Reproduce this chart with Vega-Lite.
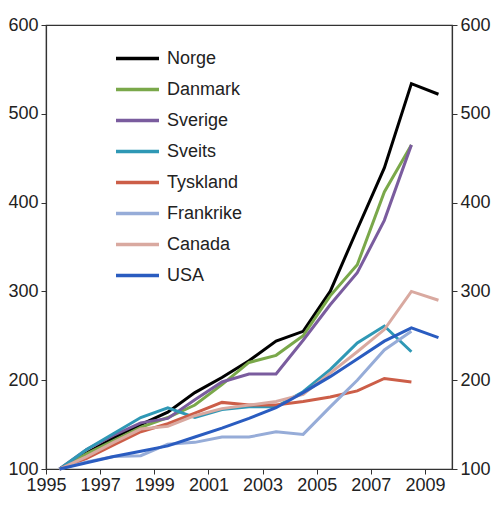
{
  "$schema": "https://vega.github.io/schema/vega-lite/v6.json",
  "width": 406,
  "height": 444,
  "autosize": "none",
  "padding": {"left": 46, "top": 25, "right": 48, "bottom": 44},
  "background": "white",
  "config": {
    "font": "Liberation Sans",
    "view": {"stroke": "#333333", "strokeWidth": 1.2},
    "axis": {
      "grid": false,
      "domainColor": "#333333",
      "domainWidth": 1.2,
      "tickColor": "#333333",
      "tickSize": 5,
      "labelFontSize": 18,
      "labelColor": "#222222",
      "labelFont": "Liberation Sans",
      "labelOverlap": false,
      "labelFlush": false,
      "title": null
    },
    "legend": {
      "orient": "none",
      "legendX": 68,
      "legendY": 19,
      "labelFontSize": 18,
      "labelColor": "#222222",
      "labelFont": "Liberation Sans",
      "symbolType": "stroke",
      "symbolSize": 1849,
      "symbolStrokeWidth": 3.5,
      "clipHeight": 29,
      "rowPadding": 2,
      "labelOffset": 6,
      "title": null
    }
  },
  "data": {
    "values": [
      {"land": "Norge", "år": 1995.5, "verdi": 100},
      {"land": "Norge", "år": 1996.5, "verdi": 118},
      {"land": "Norge", "år": 1997.5, "verdi": 135},
      {"land": "Norge", "år": 1998.5, "verdi": 150},
      {"land": "Norge", "år": 1999.5, "verdi": 164},
      {"land": "Norge", "år": 2000.5, "verdi": 186},
      {"land": "Norge", "år": 2001.5, "verdi": 203},
      {"land": "Norge", "år": 2002.5, "verdi": 222},
      {"land": "Norge", "år": 2003.5, "verdi": 244},
      {"land": "Norge", "år": 2004.5, "verdi": 255},
      {"land": "Norge", "år": 2005.5, "verdi": 300},
      {"land": "Norge", "år": 2006.5, "verdi": 370},
      {"land": "Norge", "år": 2007.5, "verdi": 439},
      {"land": "Norge", "år": 2008.5, "verdi": 534},
      {"land": "Norge", "år": 2009.5, "verdi": 522},
      {"land": "Danmark", "år": 1995.5, "verdi": 100},
      {"land": "Danmark", "år": 1996.5, "verdi": 117},
      {"land": "Danmark", "år": 1997.5, "verdi": 132},
      {"land": "Danmark", "år": 1998.5, "verdi": 147},
      {"land": "Danmark", "år": 1999.5, "verdi": 158},
      {"land": "Danmark", "år": 2000.5, "verdi": 172},
      {"land": "Danmark", "år": 2001.5, "verdi": 195},
      {"land": "Danmark", "år": 2002.5, "verdi": 220},
      {"land": "Danmark", "år": 2003.5, "verdi": 228},
      {"land": "Danmark", "år": 2004.5, "verdi": 250},
      {"land": "Danmark", "år": 2005.5, "verdi": 295},
      {"land": "Danmark", "år": 2006.5, "verdi": 330},
      {"land": "Danmark", "år": 2007.5, "verdi": 412},
      {"land": "Danmark", "år": 2008.5, "verdi": 465},
      {"land": "Sverige", "år": 1995.5, "verdi": 100},
      {"land": "Sverige", "år": 1996.5, "verdi": 122},
      {"land": "Sverige", "år": 1997.5, "verdi": 138},
      {"land": "Sverige", "år": 1998.5, "verdi": 152},
      {"land": "Sverige", "år": 1999.5, "verdi": 157},
      {"land": "Sverige", "år": 2000.5, "verdi": 178},
      {"land": "Sverige", "år": 2001.5, "verdi": 198},
      {"land": "Sverige", "år": 2002.5, "verdi": 207},
      {"land": "Sverige", "år": 2003.5, "verdi": 207},
      {"land": "Sverige", "år": 2004.5, "verdi": 245},
      {"land": "Sverige", "år": 2005.5, "verdi": 285},
      {"land": "Sverige", "år": 2006.5, "verdi": 321},
      {"land": "Sverige", "år": 2007.5, "verdi": 380},
      {"land": "Sverige", "år": 2008.5, "verdi": 465},
      {"land": "Sveits", "år": 1995.5, "verdi": 100},
      {"land": "Sveits", "år": 1996.5, "verdi": 122},
      {"land": "Sveits", "år": 1997.5, "verdi": 140},
      {"land": "Sveits", "år": 1998.5, "verdi": 158},
      {"land": "Sveits", "år": 1999.5, "verdi": 169},
      {"land": "Sveits", "år": 2000.5, "verdi": 158},
      {"land": "Sveits", "år": 2001.5, "verdi": 167},
      {"land": "Sveits", "år": 2002.5, "verdi": 170},
      {"land": "Sveits", "år": 2003.5, "verdi": 170},
      {"land": "Sveits", "år": 2004.5, "verdi": 187},
      {"land": "Sveits", "år": 2005.5, "verdi": 212},
      {"land": "Sveits", "år": 2006.5, "verdi": 242},
      {"land": "Sveits", "år": 2007.5, "verdi": 261},
      {"land": "Sveits", "år": 2008.5, "verdi": 232},
      {"land": "Tyskland", "år": 1995.5, "verdi": 100},
      {"land": "Tyskland", "år": 1996.5, "verdi": 112},
      {"land": "Tyskland", "år": 1997.5, "verdi": 127},
      {"land": "Tyskland", "år": 1998.5, "verdi": 142},
      {"land": "Tyskland", "år": 1999.5, "verdi": 151},
      {"land": "Tyskland", "år": 2000.5, "verdi": 163},
      {"land": "Tyskland", "år": 2001.5, "verdi": 175},
      {"land": "Tyskland", "år": 2002.5, "verdi": 172},
      {"land": "Tyskland", "år": 2003.5, "verdi": 172},
      {"land": "Tyskland", "år": 2004.5, "verdi": 176},
      {"land": "Tyskland", "år": 2005.5, "verdi": 181},
      {"land": "Tyskland", "år": 2006.5, "verdi": 188},
      {"land": "Tyskland", "år": 2007.5, "verdi": 202},
      {"land": "Tyskland", "år": 2008.5, "verdi": 198},
      {"land": "Frankrike", "år": 1995.5, "verdi": 100},
      {"land": "Frankrike", "år": 1996.5, "verdi": 108},
      {"land": "Frankrike", "år": 1997.5, "verdi": 114},
      {"land": "Frankrike", "år": 1998.5, "verdi": 115},
      {"land": "Frankrike", "år": 1999.5, "verdi": 128},
      {"land": "Frankrike", "år": 2000.5, "verdi": 130},
      {"land": "Frankrike", "år": 2001.5, "verdi": 136},
      {"land": "Frankrike", "år": 2002.5, "verdi": 136},
      {"land": "Frankrike", "år": 2003.5, "verdi": 142},
      {"land": "Frankrike", "år": 2004.5, "verdi": 139},
      {"land": "Frankrike", "år": 2005.5, "verdi": 170},
      {"land": "Frankrike", "år": 2006.5, "verdi": 200},
      {"land": "Frankrike", "år": 2007.5, "verdi": 234},
      {"land": "Frankrike", "år": 2008.5, "verdi": 255},
      {"land": "Canada", "år": 1995.5, "verdi": 100},
      {"land": "Canada", "år": 1996.5, "verdi": 114},
      {"land": "Canada", "år": 1997.5, "verdi": 130},
      {"land": "Canada", "år": 1998.5, "verdi": 145},
      {"land": "Canada", "år": 1999.5, "verdi": 148},
      {"land": "Canada", "år": 2000.5, "verdi": 160},
      {"land": "Canada", "år": 2001.5, "verdi": 168},
      {"land": "Canada", "år": 2002.5, "verdi": 172},
      {"land": "Canada", "år": 2003.5, "verdi": 176},
      {"land": "Canada", "år": 2004.5, "verdi": 184},
      {"land": "Canada", "år": 2005.5, "verdi": 208},
      {"land": "Canada", "år": 2006.5, "verdi": 232},
      {"land": "Canada", "år": 2007.5, "verdi": 257},
      {"land": "Canada", "år": 2008.5, "verdi": 300},
      {"land": "Canada", "år": 2009.5, "verdi": 290},
      {"land": "USA", "år": 1995.5, "verdi": 100},
      {"land": "USA", "år": 1996.5, "verdi": 107},
      {"land": "USA", "år": 1997.5, "verdi": 114},
      {"land": "USA", "år": 1998.5, "verdi": 120},
      {"land": "USA", "år": 1999.5, "verdi": 126},
      {"land": "USA", "år": 2000.5, "verdi": 136},
      {"land": "USA", "år": 2001.5, "verdi": 146},
      {"land": "USA", "år": 2002.5, "verdi": 157},
      {"land": "USA", "år": 2003.5, "verdi": 169},
      {"land": "USA", "år": 2004.5, "verdi": 186},
      {"land": "USA", "år": 2005.5, "verdi": 204},
      {"land": "USA", "år": 2006.5, "verdi": 224},
      {"land": "USA", "år": 2007.5, "verdi": 244},
      {"land": "USA", "år": 2008.5, "verdi": 259},
      {"land": "USA", "år": 2009.5, "verdi": 248}
    ]
  },
  "encoding": {
    "x": {
      "field": "år",
      "type": "quantitative",
      "scale": {"domain": [1995, 2010], "nice": false, "zero": false},
      "axis": {"values": [1995, 1997, 1999, 2001, 2003, 2005, 2007, 2009], "format": "d", "labelPadding": 2}
    },
    "y": {
      "field": "verdi",
      "type": "quantitative",
      "scale": {"domain": [100, 600], "nice": false, "zero": false},
      "axis": {"values": [100, 200, 300, 400, 500, 600], "labelPadding": 3}
    }
  },
  "layer": [
    {
      "mark": {"type": "line", "strokeWidth": 3, "strokeJoin": "miter"},
      "encoding": {
        "color": {
          "field": "land",
          "type": "nominal",
          "sort": null,
          "scale": {
            "domain": ["Norge", "Danmark", "Sverige", "Sveits", "Tyskland", "Frankrike", "Canada", "USA"],
            "range": ["#000000", "#7aa84a", "#7a5c9e", "#2f98b5", "#cc5e48", "#96acd8", "#d9a9a0", "#2a5cc0"]
          }
        },
        "order": {"field": "år"}
      }
    },
    {
      "mark": {"type": "line", "strokeOpacity": 0},
      "encoding": {
        "detail": {"field": "land"},
        "y": {
          "field": "verdi",
          "type": "quantitative",
          "axis": {"orient": "right", "values": [100, 200, 300, 400, 500, 600], "labelPadding": 3}
        }
      }
    }
  ],
  "resolve": {"axis": {"y": "independent"}}
}
